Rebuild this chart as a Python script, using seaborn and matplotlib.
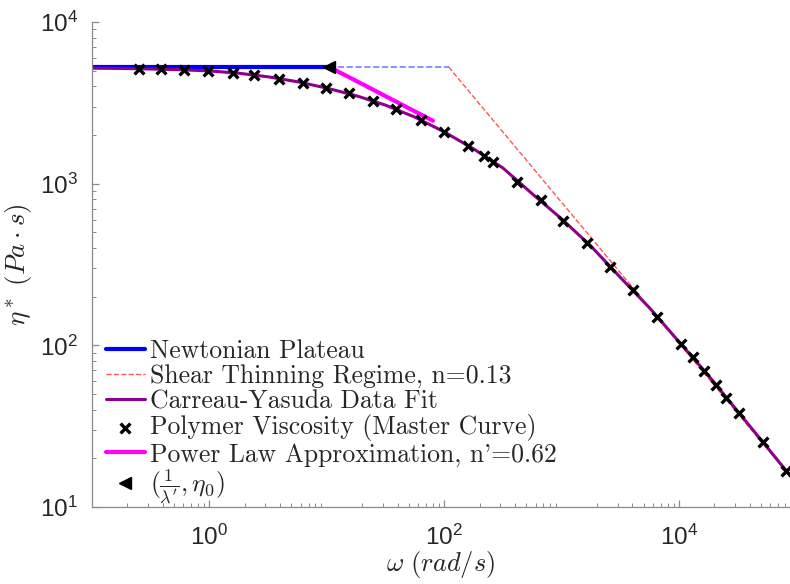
import numpy as np
import pandas as pd
import matplotlib
matplotlib.use('Agg')
import matplotlib.pyplot as plt
import seaborn as sns

# polymer viscosity master curve
omega = [0.249, 0.384, 0.613, 0.98, 1.60, 2.41, 3.93, 6.28, 9.86, 15.5, 24.7,
         38.7, 63.1, 99.0, 158, 216, 258, 413, 661, 1035, 1655, 2596, 4067,
         6500, 10400, 13150, 16300, 20600, 25100, 32300, 51700, 81100]
eta = [5120, 5120, 5050, 4980, 4840, 4700, 4440, 4200, 3910, 3640, 3250,
       2900, 2480, 2090, 1710, 1480, 1360, 1025, 793, 588, 430, 305, 220,
       150, 102, 84.8, 69.5, 56.9, 47.3, 38.2, 25.3, 16.7]

# Carreau-Yasuda fit curve
fit_omega = [0.1, 0.178, 0.316, 0.562, 1.0, 1.78, 3.16, 5.62, 10.0, 17.8, 31.6,
             56.2, 100, 178, 316, 562, 1000, 1780, 3160, 5620, 10000, 17800,
             31600, 56200, 100000]
fit_eta = [5180, 5160, 5120, 5070, 4980, 4820, 4580, 4270, 3900, 3500, 3060,
           2580, 2090, 1640, 1250, 865, 605, 410, 263, 170, 105, 65, 39,
           23.4, 14.0]

# reference lines
plateau_omega = [0.1, 10.5]
plateau_eta = [5270, 5270]
plateau_ext_omega = [10.5, 109]
plateau_ext_eta = [5270, 5270]
shear_omega = [109, 100000]
shear_eta = [5270, 13.9]
pl_omega = [10.5, 80]
pl_eta = [5270, 2450]
corner_omega = [10.5]
corner_eta = [5270]

sns.set_theme(style='white')
plt.rcParams['font.family'] = ['Liberation Sans', 'DejaVu Sans']
plt.rcParams['mathtext.fontset'] = 'cm'

fig = plt.figure(figsize=(7.9, 5.84), dpi=100)
ax = fig.add_axes([92 / 790, 77 / 584, 1 - 92 / 790, 485 / 584])
ax.set_xscale('log')
ax.set_yscale('log')

sns.lineplot(x=plateau_omega, y=plateau_eta, ax=ax, color='#0000ff', lw=3,
             label='Newtonian Plateau', estimator=None, sort=False)
sns.lineplot(x=plateau_ext_omega, y=plateau_ext_eta, ax=ax, color='#7b7bff',
             lw=1.2, linestyle='--', estimator=None, sort=False)
sns.lineplot(x=shear_omega, y=shear_eta, ax=ax, color='#ff5555', lw=1.0,
             linestyle='--', label='Shear Thinning Regime, n=0.13',
             estimator=None, sort=False)
sns.lineplot(x=fit_omega, y=fit_eta, ax=ax, color='#8c008c', lw=2.2,
             label='Carreau-Yasuda Data Fit', estimator=None, sort=False)
sns.scatterplot(x=omega, y=eta, ax=ax, marker='x', color='black', s=50,
                linewidth=2.4, label='Polymer Viscosity (Master Curve)', zorder=5)
sns.lineplot(x=pl_omega, y=pl_eta, ax=ax, color='#ff00ff', lw=3,
             label="Power Law Approximation, n'=0.62", estimator=None, sort=False)
ax.plot(corner_omega, corner_eta, marker='<', color='black', ms=9, ls='none',
        label=r'$(\frac{1}{\lambda^\prime},\eta_0)$', zorder=6)

ax.set_xlim(0.1, 8.8e4)
ax.set_ylim(10, 1e4)

for s in ['top', 'right']:
    ax.spines[s].set_visible(False)
for s in ['left', 'bottom']:
    ax.spines[s].set_color('#8a8a8a')
    ax.spines[s].set_linewidth(0.9)

ax.set_xticks([1, 100, 10000])
ax.xaxis.set_minor_locator(matplotlib.ticker.LogLocator(base=10, subs=np.arange(2, 10), numticks=20))
ax.yaxis.set_minor_locator(matplotlib.ticker.LogLocator(base=10, subs=np.arange(2, 10), numticks=20))
ax.tick_params(which='both', direction='in', colors='#8a8a8a', labelcolor='#262626',
               bottom=True, left=True, labelsize=17.5)
ax.tick_params(axis='x', which='major', length=5, width=0.9, pad=13)
ax.tick_params(axis='y', which='major', length=5, width=0.9, pad=10)
ax.tick_params(which='minor', length=3, width=0.7)

ax.set_xlabel(r'$\omega\ (rad/s)$', fontsize=19, color='#262626', labelpad=-1)
ax.set_ylabel(r'$\eta^*\ (Pa\cdot s)$', fontsize=19.5, color='#262626', labelpad=4)

h, l = ax.get_legend_handles_labels()
ax.legend(h, l, loc='lower left', bbox_to_anchor=(0.0, -0.028), frameon=False,
          prop={'family': 'cmr10', 'size': 18.5}, handlelength=1.5,
          handletextpad=0.2, labelspacing=0.05, borderaxespad=0.15,
          borderpad=0.4)

fig.savefig('out.png', dpi=100)
